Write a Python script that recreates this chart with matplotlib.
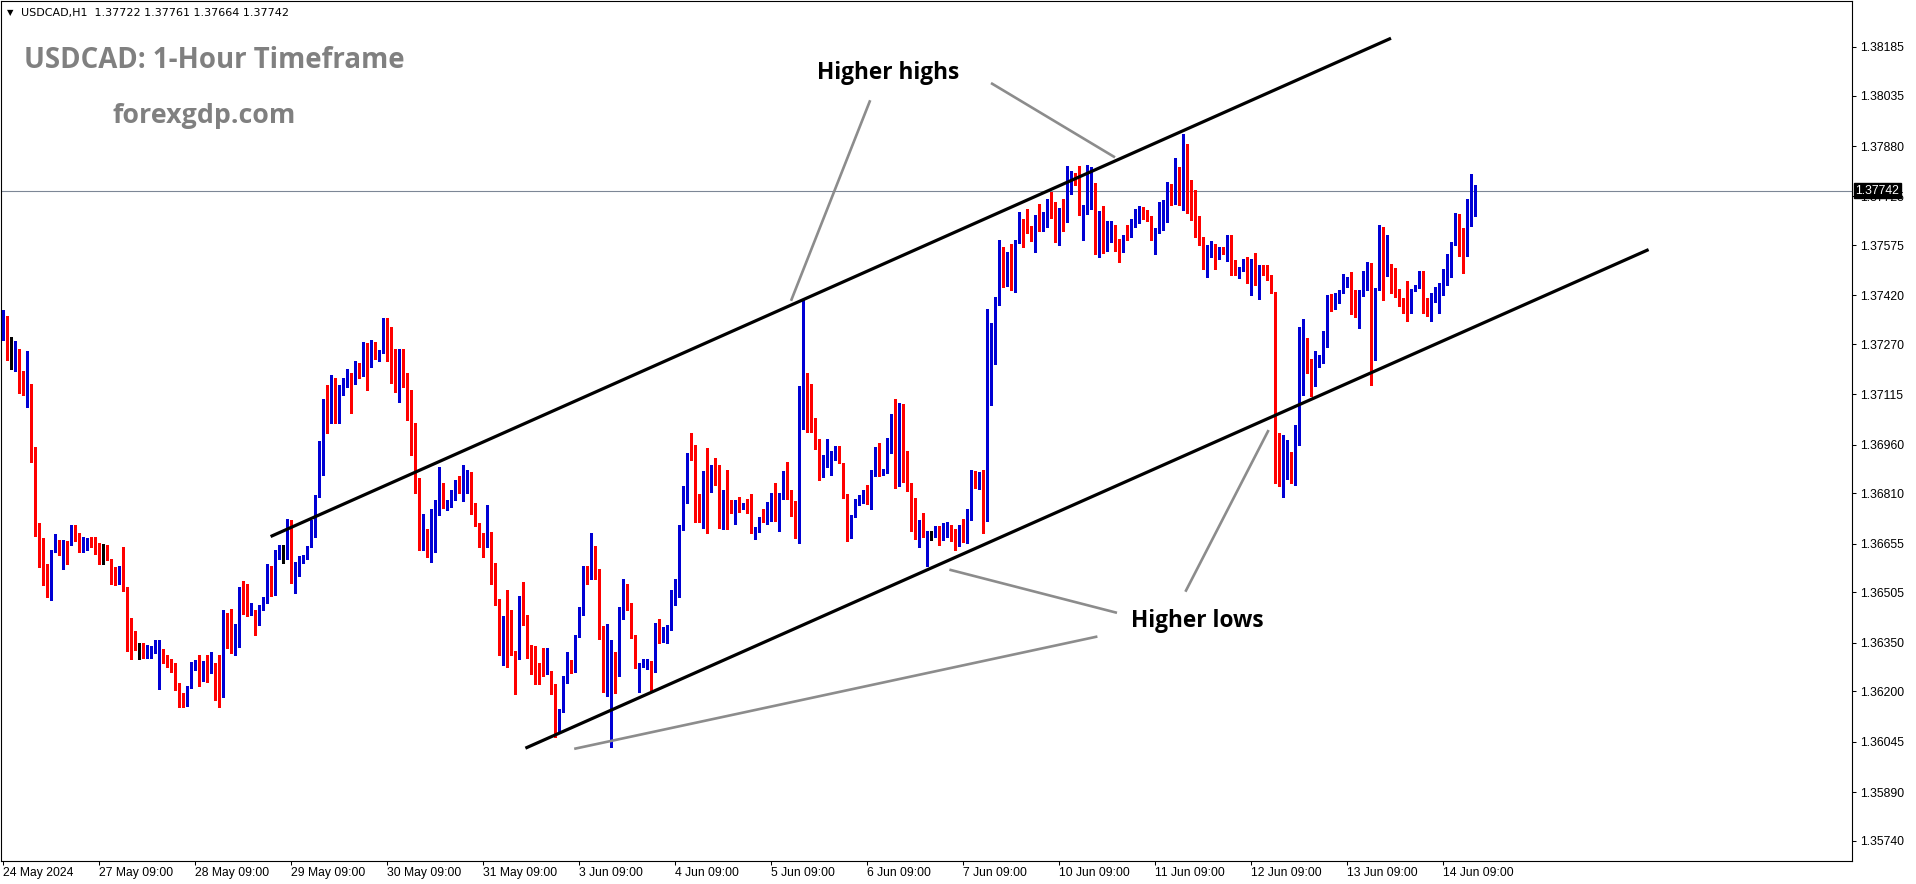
import matplotlib
matplotlib.use("Agg")
import matplotlib.pyplot as plt
import numpy as np

W, H = 1916, 884

# ---------------- data (USDCAD H1) ----------------
close = [
 1.37357,1.37224,1.37225,1.37247,1.37164,1.37124,1.37132,1.36951,1.36702,1.36671,1.36566,1.36496,
 1.36630,1.36656,1.36640,1.36662,1.36652,1.36707,1.36669,1.36640,1.36650,1.36662,1.36656,1.36628,
 1.36612,1.36612,1.36607,1.36535,1.36533,1.36564,1.36521,1.36360,1.36356,1.36335,1.36334,1.36305,
 1.36323,1.36326,1.36340,1.36328,1.36311,1.36291,1.36274,1.36225,1.36178,1.36163,1.36213,1.36266,
 1.36285,1.36235,1.36280,1.36258,1.36280,1.36221,1.36200,1.36441,1.36354,1.36319,1.36346,1.36494,
 1.36484,1.36437,1.36451,1.36410,1.36461,1.36476,1.36562,1.36521,1.36630,1.36634,1.36634,1.36722,
 1.36564,1.36568,1.36601,1.36615,1.36646,1.36716,1.36800,1.36897,1.37069,1.37040,1.37061,1.37059,
 1.37112,1.37143,1.37180,1.37147,1.37199,1.37172,1.37203,1.37201,1.37250,1.37231,1.37242,1.37316,
 1.37305,1.37199,1.37151,1.37199,1.37143,1.37065,1.36969,1.36856,1.36683,1.36699,1.36644,1.36718,
 1.36749,1.36821,1.36769,1.36773,1.36819,1.36843,1.36819,1.36862,1.36874,1.36747,1.36710,1.36667,
 1.36646,1.36689,1.36589,1.36474,1.36326,1.36398,1.36359,1.36323,1.36299,1.36488,1.36424,1.36326,
 1.36303,1.36258,1.36256,1.36254,1.36264,1.36194,1.36085,1.36143,1.36235,1.36291,1.36276,1.36371,
 1.36453,1.36564,1.36550,1.36638,1.36574,1.36381,1.36239,1.36297,1.36305,1.36276,1.36433,1.36513,
 1.36461,1.36373,1.36276,1.36276,1.36283,1.36291,1.36264,1.36367,1.36357,1.36379,1.36391,1.36492,
 1.36498,1.36700,1.36798,1.36930,1.36923,1.36794,1.36782,1.36841,1.36813,1.36866,1.36843,1.36774,
 1.36796,1.36765,1.36757,1.36782,1.36765,1.36771,1.36755,1.36689,1.36695,1.36732,1.36728,1.36751,
 1.36790,1.36730,1.36798,1.36856,1.36798,1.36782,1.36693,1.37036,1.37178,1.37053,1.37001,1.36948,
 1.36890,1.36901,1.36938,1.36915,1.36950,1.36905,1.36806,1.36677,1.36741,1.36777,1.36788,1.36796,
 1.36780,1.36868,1.36938,1.36870,1.36880,1.36938,1.37012,1.36853,1.37077,1.36847,1.36839,1.36695,
 1.36671,1.36708,1.36691,1.36681,1.36681,1.36687,1.36677,1.36685,1.36691,1.36679,1.36650,1.36697,
 1.36691,1.36736,1.36835,1.36827,1.36870,1.36728,1.37215,1.37281,1.37396,1.37494,1.37449,1.37504,
 1.37449,1.37585,1.37654,1.37615,1.37613,1.37589,1.37636,1.37619,1.37650,1.37714,1.37663,1.37622,
 1.37673,1.37646,1.37788,1.37790,1.37765,1.37671,1.37693,1.37747,1.37759,1.37554,1.37640,1.37595,
 1.37609,1.37615,1.37570,1.37558,1.37605,1.37603,1.37638,1.37646,1.37681,1.37667,1.37654,1.37603,
 1.37615,1.37628,1.37681,1.37747,1.37702,1.37804,1.37728,1.37835,1.37732,1.37663,1.37611,1.37591,
 1.37529,1.37546,1.37578,1.37550,1.37558,1.37550,1.37597,1.37507,1.37486,1.37502,1.37529,1.37461,
 1.37525,1.37453,1.37504,1.37492,1.37474,1.37428,1.36909,1.36864,1.36903,1.36925,1.36845,1.37018,
 1.37166,1.37264,1.37223,1.37161,1.37215,1.37221,1.37285,1.37406,1.37389,1.37400,1.37431,1.37455,
 1.37465,1.37414,1.37355,1.37424,1.37482,1.37517,1.37334,1.37439,1.37554,1.37484,1.37513,1.37484,
 1.37433,1.37406,1.37394,1.37379,1.37439,1.37447,1.37492,1.37371,1.37365,1.37420,1.37431,1.37455,
 1.37457,1.37507,1.37578,1.37599,1.37595,1.37562,1.37652,1.37728,1.37742,
]
high = [
 1.37375,1.37357,1.37293,1.37278,1.37254,1.37188,1.37249,1.37147,1.36953,1.36718,1.36674,1.36593,
 1.36634,1.36685,1.36667,1.36667,1.36662,1.36712,1.36714,1.36687,1.36677,1.36673,1.36677,1.36675,
 1.36656,1.36654,1.36650,1.36609,1.36584,1.36586,1.36644,1.36517,1.36426,1.36385,1.36348,1.36348,
 1.36344,1.36340,1.36358,1.36358,1.36330,1.36313,1.36299,1.36287,1.36227,1.36194,1.36217,1.36291,
 1.36297,1.36311,1.36293,1.36313,1.36322,1.36287,1.36311,1.36451,1.36441,1.36455,1.36408,1.36523,
 1.36539,1.36531,1.36471,1.36451,1.36465,1.36492,1.36593,1.36586,1.36636,1.36650,1.36650,1.36732,
 1.36728,1.36599,1.36617,1.36619,1.36648,1.36728,1.36805,1.36971,1.37102,1.37143,1.37174,1.37166,
 1.37145,1.37164,1.37192,1.37180,1.37219,1.37213,1.37277,1.37273,1.37283,1.37277,1.37252,1.37349,
 1.37349,1.37324,1.37256,1.37256,1.37254,1.37180,1.37129,1.37026,1.36854,1.36747,1.36699,1.36763,
 1.36790,1.36892,1.36841,1.36790,1.36821,1.36851,1.36864,1.36897,1.36882,1.36876,1.36780,1.36718,
 1.36687,1.36775,1.36692,1.36595,1.36484,1.36433,1.36513,1.36451,1.36318,1.36494,1.36538,1.36436,
 1.36343,1.36340,1.36287,1.36333,1.36333,1.36264,1.36223,1.36147,1.36248,1.36322,1.36297,1.36375,
 1.36459,1.36587,1.36585,1.36687,1.36648,1.36576,1.36400,1.36408,1.36359,1.36322,1.36461,1.36546,
 1.36531,1.36472,1.36375,1.36287,1.36301,1.36301,1.36293,1.36412,1.36422,1.36398,1.36404,1.36513,
 1.36546,1.36713,1.36833,1.36934,1.36995,1.36960,1.36808,1.36880,1.36950,1.36897,1.36919,1.36897,
 1.36819,1.36882,1.36790,1.36790,1.36800,1.36780,1.36792,1.36808,1.36706,1.36736,1.36763,1.36782,
 1.36810,1.36841,1.36812,1.36878,1.36907,1.36821,1.36786,1.37141,1.37410,1.37182,1.37147,1.37042,
 1.36977,1.36927,1.36977,1.36940,1.36956,1.36956,1.36905,1.36808,1.36743,1.36794,1.36806,1.36819,
 1.36835,1.36882,1.36954,1.36964,1.36886,1.36979,1.37055,1.37102,1.37088,1.37084,1.36940,1.36841,
 1.36796,1.36728,1.36749,1.36695,1.36695,1.36708,1.36708,1.36718,1.36722,1.36712,1.36699,1.36712,
 1.36732,1.36763,1.36882,1.36880,1.36876,1.36882,1.37377,1.37336,1.37416,1.37589,1.37568,1.37552,
 1.37578,1.37589,1.37677,1.37654,1.37687,1.37634,1.37667,1.37702,1.37677,1.37716,1.37737,1.37708,
 1.37689,1.37718,1.37817,1.37802,1.37796,1.37817,1.37698,1.37823,1.37815,1.37765,1.37681,1.37695,
 1.37648,1.37648,1.37638,1.37595,1.37607,1.37636,1.37656,1.37685,1.37695,1.37691,1.37683,1.37663,
 1.37626,1.37706,1.37714,1.37769,1.37763,1.37843,1.37815,1.37917,1.37887,1.37776,1.37745,1.37663,
 1.37599,1.37574,1.37587,1.37578,1.37570,1.37570,1.37605,1.37607,1.37529,1.37508,1.37533,1.37537,
 1.37531,1.37550,1.37513,1.37513,1.37513,1.37484,1.37431,1.36995,1.36991,1.36975,1.36938,1.37020,
 1.37322,1.37346,1.37289,1.37221,1.37248,1.37235,1.37311,1.37422,1.37424,1.37426,1.37437,1.37486,
 1.37476,1.37492,1.37435,1.37437,1.37496,1.37523,1.37519,1.37443,1.37636,1.37632,1.37605,1.37517,
 1.37504,1.37439,1.37412,1.37463,1.37441,1.37451,1.37496,1.37496,1.37412,1.37426,1.37445,1.37457,
 1.37502,1.37546,1.37583,1.37673,1.37671,1.37626,1.37718,1.37794,1.37761,
]
low = [
 1.37281,1.37221,1.37192,1.37188,1.37118,1.37113,1.37077,1.36908,1.36680,1.36582,1.36529,1.36490,
 1.36480,1.36628,1.36619,1.36578,1.36593,1.36650,1.36664,1.36630,1.36630,1.36636,1.36646,1.36623,
 1.36593,1.36593,1.36605,1.36531,1.36529,1.36531,1.36510,1.36323,1.36299,1.36328,1.36299,1.36302,
 1.36302,1.36303,1.36319,1.36208,1.36287,1.36274,1.36260,1.36204,1.36151,1.36151,1.36155,1.36211,
 1.36266,1.36217,1.36233,1.36229,1.36258,1.36174,1.36151,1.36184,1.36334,1.36317,1.36313,1.36338,
 1.36437,1.36432,1.36435,1.36373,1.36406,1.36451,1.36471,1.36494,1.36498,1.36607,1.36595,1.36609,
 1.36533,1.36504,1.36554,1.36597,1.36609,1.36648,1.36677,1.36798,1.36866,1.36997,1.37028,1.37026,
 1.37028,1.37118,1.37139,1.37057,1.37147,1.37164,1.37172,1.37127,1.37199,1.37225,1.37217,1.37242,
 1.37217,1.37151,1.37123,1.37090,1.37139,1.37036,1.36927,1.36812,1.36636,1.36634,1.36615,1.36599,
 1.36628,1.36743,1.36765,1.36759,1.36769,1.36790,1.36810,1.36788,1.36810,1.36745,1.36708,1.36646,
 1.36615,1.36646,1.36531,1.36467,1.36311,1.36282,1.36276,1.36312,1.36192,1.36301,1.36404,1.36302,
 1.36254,1.36223,1.36223,1.36246,1.36262,1.36192,1.36059,1.36073,1.36135,1.36225,1.36258,1.36261,
 1.36367,1.36435,1.36531,1.36546,1.36546,1.36361,1.36198,1.36186,1.36030,1.36196,1.36248,1.36424,
 1.36451,1.36363,1.36272,1.36198,1.36276,1.36270,1.36203,1.36260,1.36350,1.36353,1.36350,1.36389,
 1.36467,1.36492,1.36698,1.36780,1.36913,1.36722,1.36723,1.36702,1.36687,1.36815,1.36835,1.36703,
 1.36701,1.36699,1.36749,1.36716,1.36753,1.36763,1.36751,1.36687,1.36669,1.36691,1.36722,1.36716,
 1.36724,1.36726,1.36693,1.36794,1.36794,1.36741,1.36671,1.36656,1.37008,1.36999,1.36999,1.36946,
 1.36851,1.36860,1.36892,1.36866,1.36913,1.36903,1.36796,1.36662,1.36671,1.36738,1.36773,1.36780,
 1.36777,1.36763,1.36864,1.36864,1.36868,1.36872,1.36934,1.36827,1.36833,1.36845,1.36817,1.36693,
 1.36669,1.36644,1.36677,1.36586,1.36667,1.36677,1.36650,1.36667,1.36677,1.36664,1.36634,1.36648,
 1.36660,1.36656,1.36728,1.36825,1.36823,1.36689,1.36724,1.37083,1.37209,1.37389,1.37447,1.37451,
 1.37435,1.37431,1.37580,1.37570,1.37611,1.37587,1.37554,1.37617,1.37617,1.37632,1.37659,1.37585,
 1.37576,1.37619,1.37646,1.37732,1.37759,1.37667,1.37591,1.37671,1.37685,1.37548,1.37539,1.37550,
 1.37558,1.37585,1.37558,1.37523,1.37552,1.37591,1.37601,1.37630,1.37642,1.37654,1.37650,1.37589,
 1.37548,1.37611,1.37622,1.37646,1.37698,1.37704,1.37698,1.37683,1.37673,1.37652,1.37599,1.37574,
 1.37502,1.37478,1.37537,1.37502,1.37531,1.37546,1.37527,1.37482,1.37482,1.37472,1.37496,1.37459,
 1.37422,1.37451,1.37410,1.37482,1.37467,1.37426,1.36841,1.36833,1.36800,1.36853,1.36841,1.36835,
 1.36958,1.37112,1.37182,1.37110,1.37141,1.37198,1.37211,1.37262,1.37373,1.37379,1.37396,1.37426,
 1.37447,1.37363,1.37352,1.37318,1.37418,1.37435,1.37143,1.37221,1.37437,1.37406,1.37480,1.37426,
 1.37414,1.37387,1.37365,1.37342,1.37365,1.37433,1.37443,1.37367,1.37356,1.37342,1.37400,1.37367,
 1.37422,1.37453,1.37476,1.37574,1.37541,1.37490,1.37541,1.37634,1.37664,
]
# opens differing from the previous close (first bar, visible gaps, last bar)
open_overrides = {0: 1.37342, 39: 1.36208, 159: 1.36198, 207: 1.36870, 231: 1.36586, 368: 1.37722}

last_price = 1.37742
ytick_values = [1.38185, 1.38035, 1.37880, 1.37725, 1.37575, 1.37420, 1.37270, 1.37115, 1.36960,
                1.36810, 1.36655, 1.36505, 1.36350, 1.36200, 1.36045, 1.35890, 1.35740]
xtick_labels = ["24 May 2024", "27 May 09:00", "28 May 09:00", "29 May 09:00", "30 May 09:00",
                "31 May 09:00", "3 Jun 09:00", "4 Jun 09:00", "5 Jun 09:00", "6 Jun 09:00",
                "7 Jun 09:00", "10 Jun 09:00", "11 Jun 09:00", "12 Jun 09:00", "13 Jun 09:00",
                "14 Jun 09:00"]
bars_per_label = 24

# drawn objects: (bar index, price) endpoints
channel_upper = [(66.9, 1.36677), (347.0, 1.38212)]
channel_lower = [(130.6, 1.36025), (411.4, 1.37561)]
pointers = [
    [(216.8, 1.38021), (197.0, 1.37403)],
    [(247.0, 1.38074), (278.0, 1.37845)],
    [(295.6, 1.36507), (316.4, 1.37005)],
    [(236.6, 1.36575), (278.5, 1.36442)],
    [(142.8, 1.36023), (273.6, 1.36369)],
]
label_hh = (221.25, 1.38086, "Higher highs")
label_hl = (298.5, 1.36397, "Higher lows")

# ---------------- figure ----------------
fig = plt.figure(figsize=(W / 100, H / 100), dpi=100, facecolor="white")
ax = fig.add_axes([1 / W, 23 / H, 1851 / W, 860 / H])
ax.set_facecolor("white")

c = np.array(close)
o = np.r_[c[0], c[:-1]]
for k, v in open_overrides.items():
    o[k] = v
h = np.maximum(np.array(high), np.maximum(o, c))
l = np.minimum(np.array(low), np.minimum(o, c))
idx = np.arange(len(c))

BLUE, RED = "#0000d4", "#ff0000"
cols = np.where(np.isclose(c, o, atol=1e-7), "black", np.where(c > o, BLUE, RED))
one_px = (1.383267 - 1.356775) / 860

ax.vlines(idx, l, h, colors=cols, linewidth=0.75, antialiased=False, zorder=3)
body_bot = np.minimum(o, c)
body_h = np.maximum(np.abs(c - o), one_px)
ax.bar(idx, body_h, bottom=body_bot, width=0.7, color=cols, linewidth=0,
       antialiased=False, zorder=4)

# bid line
ax.axhline(last_price, color="#7d8796", linewidth=0.8, zorder=2)

# channel lines
for seg in (channel_upper, channel_lower):
    ax.plot([seg[0][0], seg[1][0]], [seg[0][1], seg[1][1]], color="black",
            linewidth=2.3, solid_capstyle="butt", zorder=5)
for seg in pointers:
    ax.plot([seg[0][0], seg[1][0]], [seg[0][1], seg[1][1]], color="#8c8c8c",
            linewidth=1.9, solid_capstyle="butt", zorder=5)

for (xx, yy, s) in (label_hh, label_hl):
    ax.text(xx, yy, s, ha="center", va="baseline", fontsize=16.3, fontweight="bold",
            family="Open Sans", color="black", zorder=6)

ax.set_xlim(-0.5, 462.25)
ax.set_ylim(1.356775, 1.383267)

# axes / ticks
for sp in ax.spines.values():
    sp.set_color("black")
    sp.set_linewidth(0.8)
ax.yaxis.tick_right()
ax.set_yticks(ytick_values)
ax.set_yticklabels([f"{v:.5f}" for v in ytick_values])
ax.tick_params(axis="y", direction="out", length=3, width=0.75, pad=2.5,
               labelsize=8.8, colors="black")
ax.set_xticks(np.arange(len(xtick_labels)) * bars_per_label)
ax.set_xticklabels(xtick_labels)
ax.tick_params(axis="x", direction="out", length=3, width=0.75, pad=1.5,
               labelsize=8.7, colors="black")
for t in ax.get_xticklabels() + ax.get_yticklabels():
    t.set_family("Liberation Sans")
for t in ax.get_xticklabels():
    t.set_ha("left")

# current price tag (covers the grid label beneath it, as in the terminal)
ax.annotate(f"{last_price:.5f}", xy=(1.0, last_price), xycoords=("axes fraction", "data"),
            xytext=(2.5, 0), textcoords="offset points", ha="left", va="center",
            fontsize=8.8, family="Liberation Sans", color="white", zorder=10,
            bbox=dict(boxstyle="square,pad=0.12", fc="black", ec="black"),
            annotation_clip=False)

# header & watermark texts
fig.text(7 / W, 1 - 13 / H, "\u25BC", fontsize=6, va="center", ha="left", color="black",
         family="DejaVu Sans")
fig.text(21 / W, 1 - 13 / H, "USDCAD,H1  1.37722 1.37761 1.37664 1.37742", fontsize=8.05,
         va="center", ha="left", color="black", family="DejaVu Sans")
fig.text(24 / W, 1 - 68.3 / H, "USDCAD: 1-Hour Timeframe", fontsize=19.9, fontweight="bold",
         family="Open Sans", color="#808080", va="baseline", ha="left")
fig.text(112.7 / W, 1 - 122.7 / H, "forexgdp.com", fontsize=19.3, fontweight="bold",
         family="Open Sans", color="#808080", va="baseline", ha="left")

fig.savefig("out.png", dpi=100, facecolor="white")
